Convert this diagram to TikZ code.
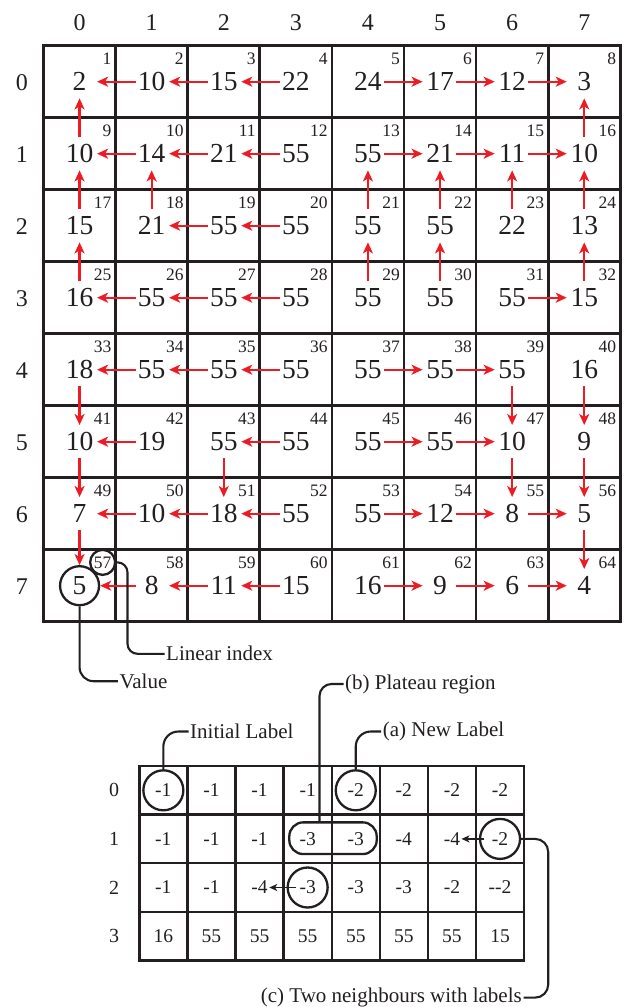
\documentclass[tikz,border=0pt]{standalone}
\usepackage{fontspec}
\setmainfont{Liberation Serif}
\usetikzlibrary{arrows.meta}
\definecolor{arrred}{RGB}{237,28,36}
\definecolor{ink}{RGB}{35,31,32}
\begin{document}
\begin{tikzpicture}[x=1pt,y=-1pt,
  gridline/.style={line width=2.7pt, draw=ink, line cap=rect},
  bgridline/.style={line width=2.4pt, draw=ink, line cap=rect},
  valtxt/.style={font=\fontsize{27.5}{30}\selectfont, text=ink, inner sep=0pt},
  idxtxt/.style={font=\fontsize{17.5}{20}\selectfont, text=ink, inner sep=0pt, anchor=base east},
  axtxt/.style={font=\fontsize{24}{26}\selectfont, text=ink, inner sep=0pt},
  btxt/.style={font=\fontsize{19.5}{21}\selectfont, text=ink, inner sep=0pt},
  browtxt/.style={font=\fontsize{20}{22}\selectfont, text=ink, inner sep=0pt},
  lbl/.style={font=\fontsize{21}{24}\selectfont, text=ink, inner sep=0pt},
  harr/.style={draw=arrred, line width=2.3pt, -{Stealth[length=11pt,width=10pt,inset=3pt]}, shorten <=16pt, shorten >=17.5pt},
  varr/.style={harr, shorten <=16.7pt, shorten >=16.7pt},
  barr/.style={draw=ink, line width=1.6pt, -{Stealth[length=8pt,width=7pt,inset=2.2pt]}},
  callout/.style={draw=ink, line width=2.1pt},
  ring/.style={draw=ink, line width=2.3pt, circle, inner sep=0pt}
]
\useasboundingbox (0,0) rectangle (628,1007);
\def\gx{43.5}\def\gy{45.7}\def\gw{72.1}\def\gh{72}
% top grid
\foreach \k in {0,...,8} {
  \draw[gridline] ({\gx+\k*\gw},\gy) -- ({\gx+\k*\gw},{\gy+8*\gh});
  \draw[gridline] (\gx,{\gy+\k*\gh}) -- ({\gx+8*\gw},{\gy+\k*\gh});
}
\foreach \k in {0,...,7} {
  \node[axtxt] (col-\k) at ({\gx+(\k+0.5)*\gw},22.8) {\k};
  \node[axtxt] (row-\k) at (22,{\gy+(\k+0.5)*\gh+1}) {\k};
}
\foreach \row [count=\i from 0] in {{2,10,15,22,24,17,12,3},{10,14,21,55,55,21,11,10},{15,21,55,55,55,55,22,13},{16,55,55,55,55,55,55,15},{18,55,55,55,55,55,55,16},{10,19,55,55,55,55,10,9},{7,10,18,55,55,12,8,5},{5,8,11,15,16,9,6,4}} {
  \foreach \v [count=\j from 0] in \row {
    \coordinate (c-\i-\j) at ({\gx+(\j+0.5)*\gw},{\gy+(\i+0.5)*\gh});
    \node[valtxt] (v-\i-\j) at (c-\i-\j) {\v};
    \pgfmathtruncatemacro\idx{\i*8+\j+1}
    \node[idxtxt] (n-\i-\j) at ({\gx+(\j+1)*\gw-4},{\gy+\i*\gh+18.3}) {\idx};
  }
}
% red arrows
\foreach \a/\b in {0-1/0-0,0-2/0-1,0-3/0-2,0-4/0-5,0-5/0-6,0-6/0-7,
  1-1/1-0,1-2/1-1,1-3/1-2,1-4/1-5,1-5/1-6,1-6/1-7,
  2-2/2-1,2-3/2-2,
  3-1/3-0,3-2/3-1,3-3/3-2,3-6/3-7,
  4-1/4-0,4-2/4-1,4-3/4-2,4-4/4-5,4-5/4-6,
  5-1/5-0,5-3/5-2,5-4/5-5,5-5/5-6,
  6-1/6-0,6-2/6-1,6-3/6-2,6-4/6-5,6-5/6-6,6-6/6-7,
  7-2/7-1,7-3/7-2,7-4/7-5,7-5/7-6,7-6/7-7}
  \draw[harr] (c-\a) -- (c-\b);
\foreach \a/\b in {1-0/0-0,1-7/0-7,
  2-0/1-0,2-1/1-1,2-4/1-4,2-5/1-5,2-6/1-6,2-7/1-7,
  3-0/2-0,3-4/2-4,3-5/2-5,3-7/2-7,
  4-0/5-0,4-6/5-6,4-7/5-7,
  5-0/6-0,5-2/6-2,5-6/6-6,5-7/6-7,
  6-7/7-7}
  \draw[varr] (c-\a) -- (c-\b);
\node[ring, minimum size=39pt] (ring5) at (c-7-0) {};
\node[ring, minimum size=25pt] (ring57) at (n-7-0) {};
\draw[harr, shorten >=0pt] (c-7-1) -- (ring5);
\draw[varr, shorten >=0pt] (c-6-0) -- (ring5);
% callouts for top grid
\node[lbl, anchor=west] (linidx) at (166,653.8) {Linear index};
\node[lbl, anchor=west] (valuelbl) at (119.3,681.2) {Value};
\draw[callout, rounded corners=10pt] (ring57.east) -- ++(11.2,0) |- ([xshift=-1.5pt]linidx.west);
\draw[callout, rounded corners=14pt] (ring5.south) |- ([xshift=-1.5pt]valuelbl.west);
% bottom grid
\def\bx{139.3}\def\by{766}\def\bw{48.1}\def\bh{48.6}
\foreach \k in {0,...,8} {
  \draw[bgridline] ({\bx+\k*\bw},\by) -- ({\bx+\k*\bw},{\by+4*\bh});
}
\foreach \k in {0,...,4} {
  \draw[bgridline] (\bx,{\by+\k*\bh}) -- ({\bx+8*\bw},{\by+\k*\bh});
}
\foreach \k in {0,...,3} {
  \node[browtxt] (brow-\k) at (114,{\by+(\k+0.5)*\bh}) {\k};
}
\foreach \row [count=\i from 0] in {{-1,-1,-1,-1,-2,-2,-2,-2},{-1,-1,-1,-3,-3,-4,-4,-2},{-1,-1,-4,-3,-3,-3,-2,-{}-2},{16,55,55,55,55,55,55,15}} {
  \foreach \v [count=\j from 0] in \row {
    \node[btxt] (b-\i-\j) at ({\bx+(\j+0.5)*\bw},{\by+(\i+0.5)*\bh}) {\v};
  }
}
\node[ring, minimum size=40pt] (rb00) at (b-0-0) {};
\node[ring, minimum size=40pt] (rb04) at (b-0-4) {};
\node[ring, minimum size=40pt] (rb17) at (b-1-7) {};
\node[ring, minimum size=40pt] (rb23) at (b-2-3) {};
\node[draw=ink, line width=2.3pt, rounded corners=14pt, minimum width=87.4pt, minimum height=31.7pt, inner sep=0pt] (plateau) at (333,838.2) {};
\draw[barr, shorten <=16pt, shorten >=9.5pt] (b-1-7.center) -- (b-1-6.center);
\draw[barr, shorten <=12pt, shorten >=9.7pt] (b-2-3.center) -- (b-2-2.center);
% bottom callouts
\node[lbl, anchor=west] (initlbl) at (190,731.5) {Initial Label};
\node[lbl, anchor=west] (newlbl) at (382.7,731.5) {(a) New Label};
\node[lbl, anchor=west] (platlbl) at (345,684) {(b) Plateau region};
\node[lbl, anchor=east] (twolbl) at (522,997.6) {(c) Two neighbours with labels};
\draw[callout, rounded corners=15pt] (rb00.north) |- ([xshift=-1.5pt]initlbl.west);
\draw[callout, rounded corners=15pt] (rb04.north) |- ([xshift=-1.5pt]newlbl.west);
\draw[callout, rounded corners=12pt] ([xshift=-13.5pt]plateau.north) |- ([xshift=-1.5pt]platlbl.west);
\draw[callout, rounded corners=13pt] (rb17.east) -- ++(27,0) |- ([xshift=1.5pt]twolbl.east);
\end{tikzpicture}
\end{document}
